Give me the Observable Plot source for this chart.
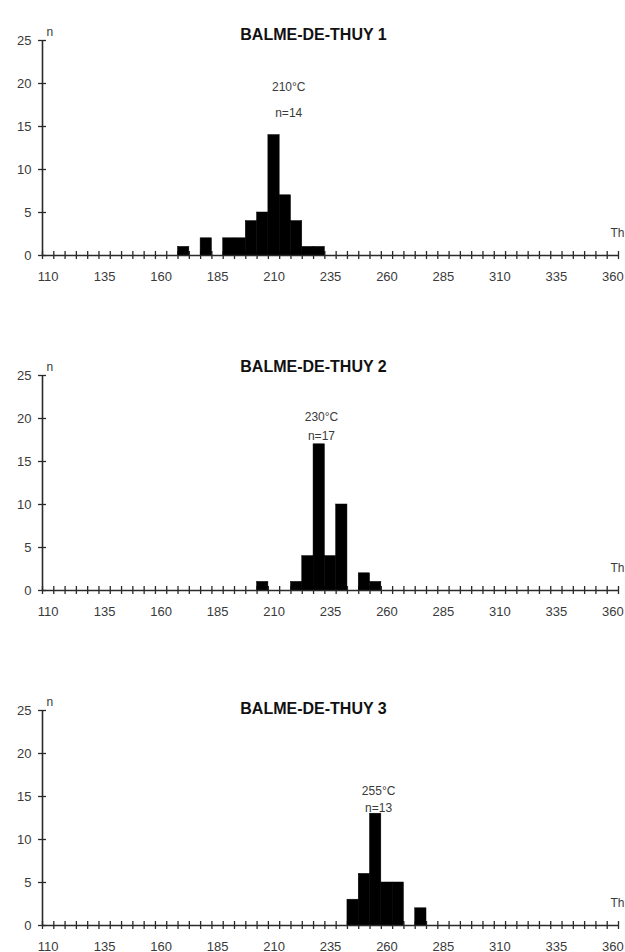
<!DOCTYPE html>
<html>
<head>
<meta charset="utf-8">
<script src="https://cdn.jsdelivr.net/npm/d3@7"></script>
<script src="https://cdn.jsdelivr.net/npm/@observablehq/plot@0.6"></script>
<style>
  html, body { margin: 0; padding: 0; background: #fff; overflow: hidden; }
  #charts svg { display: block; }
</style>
</head>
<body>
<div id="charts"></div>
<script>
// ---- data ----
const titles = ["BALME-DE-THUY 1", "BALME-DE-THUY 2", "BALME-DE-THUY 3"];

const temps1 = [170, 180, 190, 195, 200, 205, 210, 215, 220, 225, 230];
const counts1 = [1, 2, 2, 2, 4, 5, 14, 7, 4, 1, 1];

const temps2 = [205, 220, 225, 230, 235, 240, 250, 255];
const counts2 = [1, 1, 4, 17, 4, 10, 2, 1];

const temps3 = [245, 250, 255, 260, 265, 275];
const counts3 = [3, 6, 13, 5, 5, 2];

const xLabels = [110, 135, 160, 185, 210, 235, 260, 285, 310, 335, 360];
const yTicks = [0, 5, 10, 15, 20, 25];

const noteTemp = ["210°C", "230°C", "255°C"];
const noteCount = ["n=14", "n=17", "n=13"];
const noteX = [216.5, 231, 256.3];
const noteY1 = [19.6, 20.2, 15.6];
const noteY2 = [16.6, 18.0, 13.7];

const binWidth = 5;
const xMin = 110, xMax = 360, yMax = 25;

// ---- layout ----
const temps = [temps1, temps2, temps3];
const counts = [counts1, counts2, counts3];
const titleDy = [-12, -15, -8];
const x0 = xMin - binWidth / 2;
const x1 = xMax + binWidth / 2;
const boundaries = d3.range(x0, x1 + 0.001, binWidth);
const axisColor = "#2a2a2a";
const textColor = "#3a3a3a";

const container = document.getElementById("charts");

for (let i = 0; i < 3; i++) {
  const data = temps[i].map((t, j) => ({t, n: counts[i][j]}));
  const plot = Plot.plot({
    width: 625,
    height: 335,
    marginLeft: 42,
    marginRight: 7,
    marginTop: 40,
    marginBottom: 80,
    x: {domain: [x0, x1], label: null},
    y: {domain: [0, yMax], label: null},
    style: {fontFamily: "'Liberation Sans', Arial, sans-serif", fontSize: "13px", background: "#fff", color: textColor, overflow: "visible"},
    marks: [
      // minor ticks crossing the x axis (category boundaries)
      Plot.ruleX(boundaries, {x: d => d, y1: 0, y2: 0, insetTop: -4, insetBottom: -4, stroke: axisColor, strokeWidth: 1.3}),
      // ticks crossing the y axis
      Plot.ruleY(yTicks, {y: d => d, x1: x0, x2: x0, insetLeft: -4, insetRight: -4, stroke: axisColor, strokeWidth: 1.3}),
      // bars
      Plot.rectY(data, {x1: d => d.t - binWidth / 2, x2: d => d.t + binWidth / 2, y: "n", fill: "#000", stroke: "#000", strokeWidth: 0.5}),
      // axis lines
      Plot.ruleY([0], {stroke: axisColor, strokeWidth: 1.6}),
      Plot.ruleX([x0], {stroke: axisColor, strokeWidth: 1.6}),
      // tick labels
      Plot.axisX({ticks: xLabels, tickSize: 0, tickPadding: 16, tickFormat: d => String(d), fontSize: 13, fill: textColor, label: null}),
      Plot.axisY({ticks: yTicks, tickSize: 0, tickPadding: 11, tickFormat: d => String(d), fontSize: 13, fill: textColor, label: null}),
      // axis names
      Plot.text(["n"], {frameAnchor: "top-left", dx: 4, dy: -13, textAnchor: "start", fontSize: 12, fill: textColor}),
      Plot.text(["Th"], {frameAnchor: "bottom-right", dx: -8, dy: -19, textAnchor: "start", fontSize: 12, fill: textColor}),
      // title
      Plot.text([titles[i]], {frameAnchor: "top", dx: -17, dy: titleDy[i], fontSize: 16, fontWeight: "bold", fill: "#111"}),
      // peak annotation
      Plot.text([noteTemp[i]], {x: noteX[i], y: noteY1[i], fontSize: 12, fill: textColor}),
      Plot.text([noteCount[i]], {x: noteX[i], y: noteY2[i], fontSize: 12, fill: textColor})
    ]
  });
  container.appendChild(plot);
}
</script>
</body>
</html>
